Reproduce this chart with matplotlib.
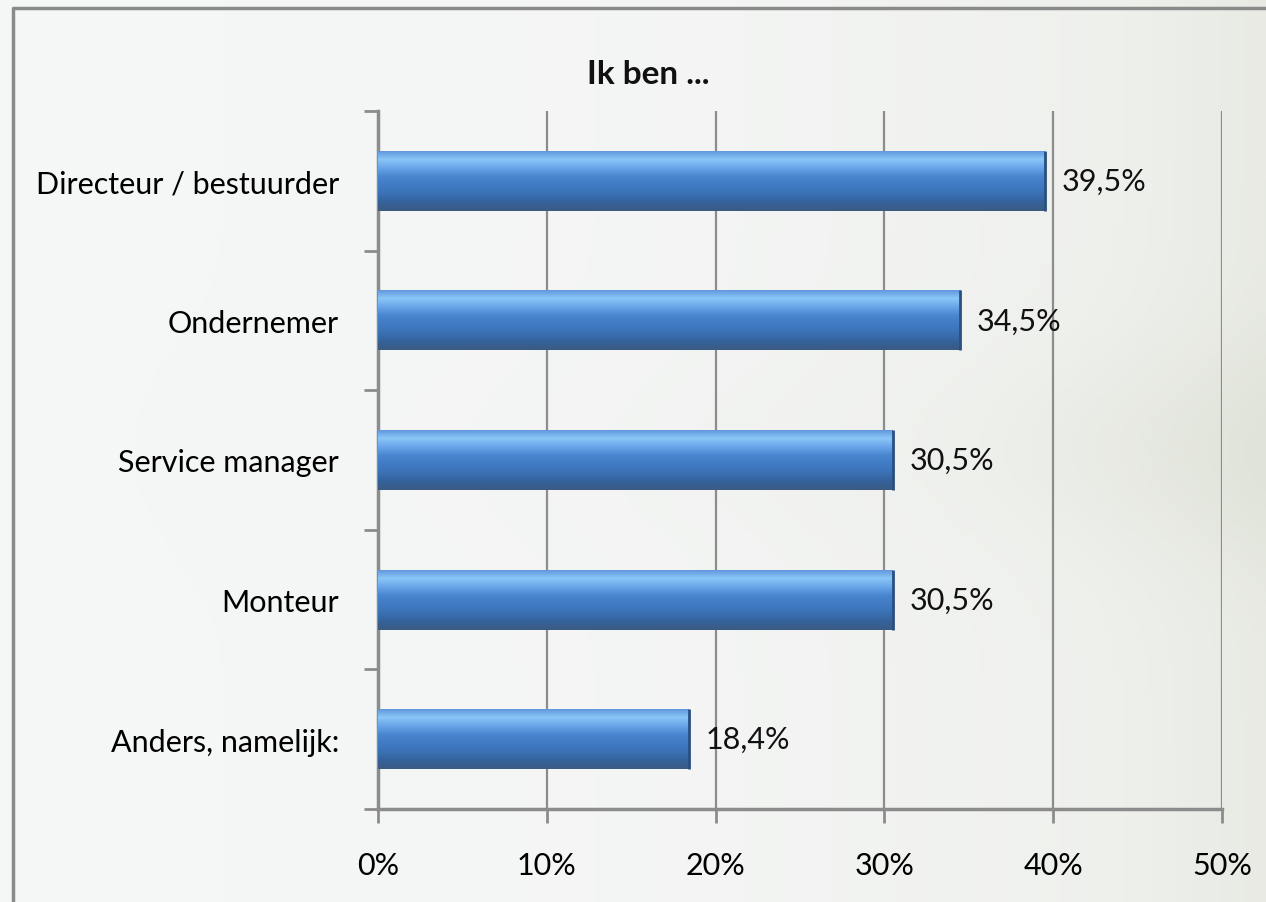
import numpy as np
import matplotlib.pyplot as plt
from matplotlib.colors import LinearSegmentedColormap
from matplotlib.ticker import FuncFormatter

categories = ['Directeur / bestuurder', 'Ondernemer', 'Service manager', 'Monteur', 'Anders, namelijk:']
values = [39.5, 34.5, 30.5, 30.5, 18.4]
value_labels = ['39,5%', '34,5%', '30,5%', '30,5%', '18,4%']
x_ticks = [0, 10, 20, 30, 40, 50]

plt.rcParams['font.family'] = ['Lato', 'DejaVu Sans']

fig = plt.figure(figsize=(12.66, 9.03), dpi=100)

# background: soft light grey/green wash
bg = fig.add_axes([0, 0, 1, 1], zorder=-10)
gx = np.linspace(0, 1, 300)
gy = np.linspace(0, 1, 200)
X, Y = np.meshgrid(gx, gy)
wash = 0.5 * X ** 3 + 0.2 * np.exp(-((Y - 0.5) / 0.12) ** 2) * X ** 2
bg_cmap = LinearSegmentedColormap.from_list('bg', ['#f5f6f6', '#eef0ec', '#e0e3d8'])
bg.imshow(wash, cmap=bg_cmap, aspect='auto', extent=[0, 1, 0, 1], vmin=0, vmax=0.7)
bg.plot([0.0103, 0.0103, 1.0], [0.0, 0.99, 0.99], color='#8a8a8a', lw=2.5)
bg.set_xlim(0, 1)
bg.set_ylim(0, 1)
bg.axis('off')

ax = fig.add_axes([0.2986, 0.103, 0.6666, 0.773])
ax.patch.set_alpha(0)

pos = np.arange(len(categories))
bars = ax.barh(pos, values, height=0.43, color='#3d74b8', edgecolor='none', zorder=3)

# bevel look: vertical gradient clipped to every bar (light rim on top, dark at bottom)
bar_cmap = LinearSegmentedColormap.from_list(
    'bar', ['#5f93dc', '#8ac6f7', '#6aa6ea', '#4a86cf', '#407bc4', '#3b72b6', '#35629c', '#3b5b84'])
grad = np.linspace(0, 1, 64).reshape(-1, 1)
for b in bars:
    x0, y0 = b.get_x(), b.get_y()
    w, h = b.get_width(), b.get_height()
    im = ax.imshow(grad, cmap=bar_cmap, aspect='auto', origin='upper',
                   extent=[x0, x0 + w, y0 + h, y0], zorder=4)
    im.set_clip_path(b)
    ax.plot([x0 + w, x0 + w], [y0, y0 + h], color='#2a4f80', lw=2, zorder=5, solid_capstyle='butt')

for b, lab in zip(bars, value_labels):
    ax.annotate(lab, (b.get_width(), b.get_y() + b.get_height() / 2),
                xytext=(12, 0), textcoords='offset points', va='center', ha='left',
                fontsize=22, color='#111111', zorder=6)

ax.set_xlim(0, 50)
ax.set_ylim(len(categories) - 0.5, -0.5)
ax.set_xticks(x_ticks)
ax.xaxis.set_major_formatter(FuncFormatter(lambda v, p: f'{v:.0f}%'))
ax.grid(axis='x', color='#8c8c8c', lw=1.6, zorder=1)
ax.set_axisbelow(True)

ax.set_yticks(pos)
ax.set_yticklabels(categories)
ax.set_yticks(np.arange(len(categories) + 1) - 0.5, minor=True)
ax.tick_params(axis='y', which='major', length=0, pad=28, labelsize=22)
ax.tick_params(axis='y', which='minor', length=10, width=2, color='#8c8c8c', direction='out')
ax.tick_params(axis='x', length=10, width=2, color='#8c8c8c', direction='out', pad=20, labelsize=22)

for s in ['top', 'right']:
    ax.spines[s].set_visible(False)
for s in ['left', 'bottom']:
    ax.spines[s].set_color('#8c8c8c')
    ax.spines[s].set_linewidth(2.5)

fig.text(0.512, 0.917, 'Ik ben ...', ha='center', va='center', fontsize=24, fontweight='bold', color='#111111')

fig.savefig('out.png', dpi=100)
